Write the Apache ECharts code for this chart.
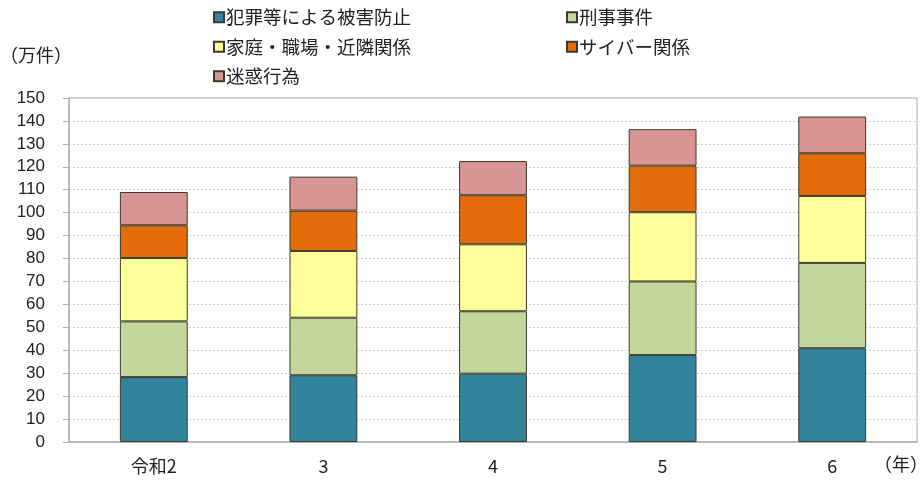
<!DOCTYPE html>
<html><head><meta charset="utf-8">
<script src="https://cdn.jsdelivr.net/npm/echarts@6/dist/echarts.min.js"></script>
<style>html,body{margin:0;padding:0;background:#fff}#c{width:920px;height:480px}</style>
</head><body><div id="c"></div>
<script>
const categories = ['令和2', '3', '4', '5', '6'];
const seriesNames = ['犯罪等による被害防止', '刑事事件', '家庭・職場・近隣関係', 'サイバー関係', '迷惑行為'];
const higaiBoushi = [28.3, 29.1, 29.8, 37.9, 40.9];
const keijiJiken = [24.3, 25.1, 27.2, 32.1, 37.2];
const kateiShokuba = [27.6, 29.1, 29.2, 30.2, 29.2];
const cyber = [14.3, 17.6, 21.4, 20.3, 18.6];
const meiwaku = [14.5, 14.8, 14.9, 15.9, 16.0];
const yTicks = [0, 10, 20, 30, 40, 50, 60, 70, 80, 90, 100, 110, 120, 130, 140, 150];

const colors = ['#31849B', '#C4D79B', '#FFFF99', '#E46C0A', '#D99594'];
const values = [higaiBoushi, keijiJiken, kateiShokuba, cyber, meiwaku];
const font = '"Noto Sans CJK JP", "Liberation Sans", sans-serif';

const chart = echarts.init(document.getElementById('c'));
const legendCommon = {
  orient: 'vertical', itemWidth: 10, itemHeight: 10, itemGap: 11, icon: 'rect',
  textStyle: { fontSize: 18.5, color: '#222', fontFamily: font, padding: [0, 0, 0, -3] },
  selectedMode: false
};
chart.setOption({
  animation: false,
  color: colors,
  grid: { left: 69, right: 3, top: 98, bottom: 38, show: true, borderColor: '#c8c8c8', borderWidth: 1.5 },
  legend: [
    Object.assign({ left: 208, top: 3, data: [seriesNames[0], seriesNames[2], seriesNames[4]] }, legendCommon),
    Object.assign({ left: 561, top: 3, data: [seriesNames[1], seriesNames[3]] }, legendCommon)
  ],
  graphic: [
    { type: 'text', left: 0, top: 46, style: { text: '（万件）', font: '18px ' + font, fill: '#222' } },
    { type: 'text', left: 874, top: 455, style: { text: '（年）', font: '18px ' + font, fill: '#222' } }
  ],
  xAxis: {
    type: 'category', data: categories,
    axisLine: { lineStyle: { color: '#b0b0b0', width: 1.5 } },
    axisTick: { show: false },
    axisLabel: { fontSize: 18, color: '#222', fontFamily: font, margin: 15 }
  },
  yAxis: {
    type: 'value', min: yTicks[0], max: yTicks[yTicks.length - 1], interval: 10,
    axisLine: { show: true, lineStyle: { color: '#b0b0b0', width: 1.5 } },
    axisTick: { show: true, length: 6, lineStyle: { color: '#b0b0b0' } },
    axisLabel: { fontSize: 17, color: '#222', fontFamily: '"Liberation Sans", sans-serif', margin: 24 },
    splitLine: { lineStyle: { color: '#cfcfcf', type: [2, 2], width: 1 } }
  },
  series: seriesNames.map((n, i) => ({
    name: n, type: 'bar', stack: 'total', barWidth: '40%', data: values[i],
    itemStyle: { color: colors[i], borderColor: '#3a3a2a', borderWidth: 1 }
  }))
});
</script></body></html>
